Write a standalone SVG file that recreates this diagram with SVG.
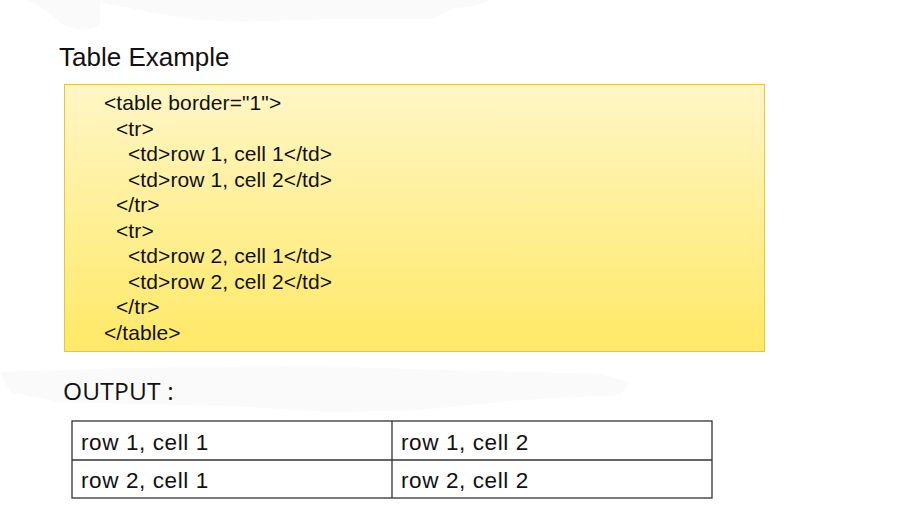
<svg xmlns="http://www.w3.org/2000/svg" width="923" height="521" viewBox="0 0 923 521">
<defs>
<linearGradient id="yel" x1="0" y1="0" x2="0" y2="1">
<stop offset="0" stop-color="#fff6c6"/>
<stop offset="1" stop-color="#ffe966"/>
</linearGradient>
</defs>
<style>
.code{font-family:"Liberation Sans",Arial,sans-serif;font-size:21px;fill:#111;letter-spacing:0.1px}
.title{font-family:"Liberation Sans",Arial,sans-serif;font-size:26px;fill:#111}
.out{font-family:"Open Sans","Noto Sans",sans-serif;font-size:24.5px;fill:#111;letter-spacing:0.2px}
.cell{font-family:"Liberation Sans",Arial,sans-serif;font-size:22.5px;fill:#111;letter-spacing:0.6px}
.grid{fill:none;stroke:#333;stroke-width:1.3}
.smudge{fill:#fafafa}
</style>
<rect width="923" height="521" fill="#ffffff"/>
<g id="smudges">
<path class="smudge" d="M28 0 L490 0 L475 6 L455 8 L430 19 L330 19 L240 22 L200 20 L160 14 L130 8 L100 3 L100 22 L95 28 L80 30 L65 26 L55 18 L45 10 Z"/>
<path class="smudge" d="M0 372 L120 368 L300 366 L450 370 L600 374 L630 382 L620 395 L520 400 L420 410 L330 412 L250 407 L150 404 L60 402 L10 392 Z"/>
</g>
<g id="title"><text class="title" x="59" y="65.5">Table Example</text></g>
<g id="code-box">
<rect x="64.5" y="84.5" width="700" height="267" fill="url(#yel)" stroke="#e8c63c" stroke-width="1"/>
<text class="code" x="104" y="110">&lt;table border="1"&gt;</text>
<text class="code" x="116" y="135.5">&lt;tr&gt;</text>
<text class="code" x="128" y="161">&lt;td&gt;row 1, cell 1&lt;/td&gt;</text>
<text class="code" x="128" y="186.5">&lt;td&gt;row 1, cell 2&lt;/td&gt;</text>
<text class="code" x="116" y="212">&lt;/tr&gt;</text>
<text class="code" x="116" y="237.5">&lt;tr&gt;</text>
<text class="code" x="128" y="263">&lt;td&gt;row 2, cell 1&lt;/td&gt;</text>
<text class="code" x="128" y="288.5">&lt;td&gt;row 2, cell 2&lt;/td&gt;</text>
<text class="code" x="116" y="314">&lt;/tr&gt;</text>
<text class="code" x="104" y="339.5">&lt;/table&gt;</text>
</g>
<g id="output-label"><text class="out" x="63" y="399.5">OUTPUT :</text></g>
<g id="output-table">
<rect class="grid" x="72" y="421" width="640" height="77"/>
<line class="grid" x1="72" y1="460" x2="712" y2="460"/>
<line class="grid" x1="392" y1="421" x2="392" y2="498"/>
<text class="cell" x="81" y="450">row 1, cell 1</text>
<text class="cell" x="401" y="450">row 1, cell 2</text>
<text class="cell" x="81" y="488">row 2, cell 1</text>
<text class="cell" x="401" y="488">row 2, cell 2</text>
</g>
</svg>
